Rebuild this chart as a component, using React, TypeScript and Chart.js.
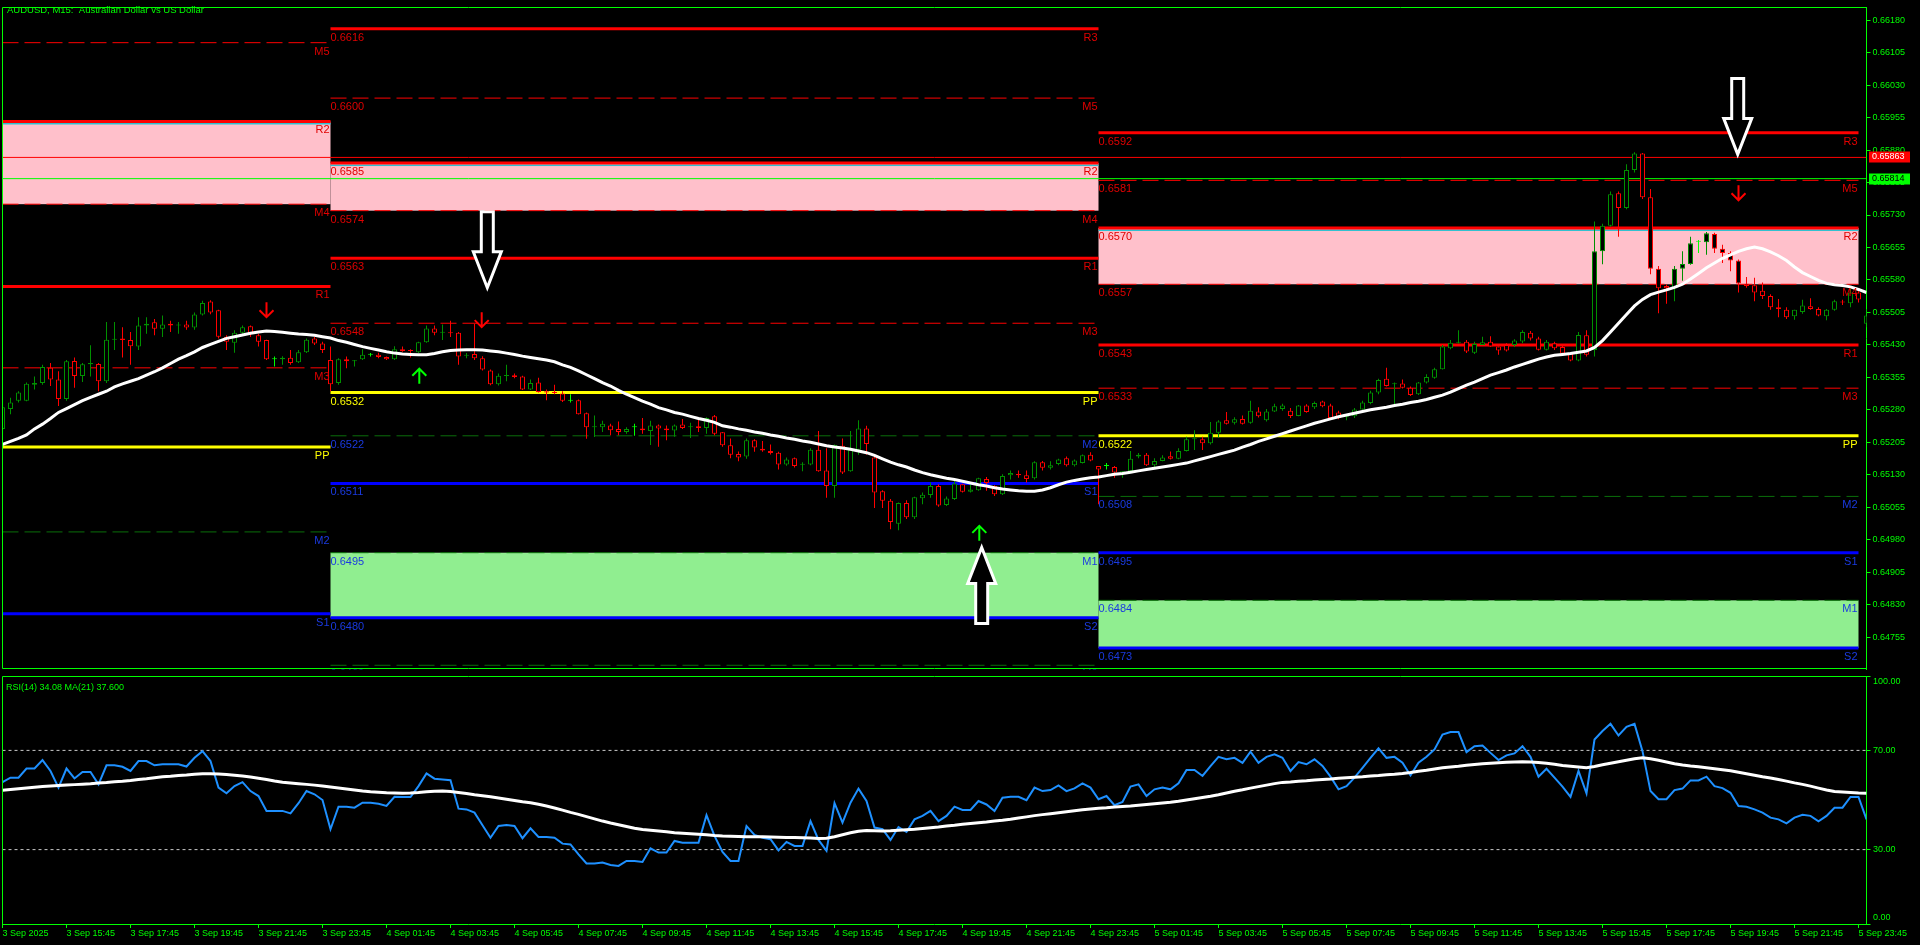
import React, { useEffect, useRef } from "react";
import { Chart, registerables } from "chart.js";

Chart.register(...registerables);

// ---------------- DATA ----------------
const TITLE = "AUDUSD, M15:  Australian Dollar vs US Dollar";
const RSI_TITLE = "RSI(14) 34.08 MA(21) 37.600";

const X_LABELS = [
  "3 Sep 2025", "3 Sep 15:45", "3 Sep 17:45", "3 Sep 19:45", "3 Sep 21:45", "3 Sep 23:45",
  "4 Sep 01:45", "4 Sep 03:45", "4 Sep 05:45", "4 Sep 07:45", "4 Sep 09:45", "4 Sep 11:45",
  "4 Sep 13:45", "4 Sep 15:45", "4 Sep 17:45", "4 Sep 19:45", "4 Sep 21:45", "4 Sep 23:45",
  "5 Sep 01:45", "5 Sep 03:45", "5 Sep 05:45", "5 Sep 07:45", "5 Sep 09:45", "5 Sep 11:45",
  "5 Sep 13:45", "5 Sep 15:45", "5 Sep 17:45", "5 Sep 19:45", "5 Sep 21:45", "5 Sep 23:45",
];
const BARS_PER_LABEL = 8;
const LAST_BAR = 233;

// prices in points (1 point = 0.00001)
const PRICE_TICKS = [
  66180, 66105, 66030, 65955, 65880, 65805, 65730, 65655, 65580, 65505,
  65430, 65355, 65280, 65205, 65130, 65055, 64980, 64905, 64830, 64755,
];
const PRICE_MIN = 64680;
const PRICE_MAX = 66209.5;
const RSI_TICKS = [100, 70, 30, 0];
const RSI_LEVELS = [70, 30];

const OPEN = [
  65236, 65282, 65301, 65301, 65338, 65342, 65377, 65350, 65305, 65393,
  65358, 65385, 65386, 65346, 65442, 65445, 65441, 65426, 65475, 65482,
  65467, 65479, 65475, 65477, 65470, 65500, 65530, 65510, 65449, 65435,
  65458, 65473, 65452, 65441, 65397, 65397, 65400, 65390, 65413, 65445,
  65433, 65395, 65342, 65397, 65392, 65397, 65407, 65407, 65402, 65397,
  65420, 65417, 65413, 65436, 65468, 65458, 65458, 65458, 65405, 65409,
  65399, 65371, 65339, 65358, 65360, 65357, 65327, 65343, 65323, 65320,
  65318, 65301, 65302, 65272, 65240, 65240, 65244, 65236, 65229, 65240,
  65237, 65231, 65244, 65237, 65232, 65246, 65240, 65242, 65238, 65265,
  65228, 65198, 65178, 65172, 65210, 65190, 65185, 65181, 65154, 65168,
  65153, 65154, 65188, 65140, 65104, 65197, 65138, 65188, 65237, 65170,
  65092, 65070, 65017, 65065, 65032, 65076, 65083, 65104, 65060, 65074,
  65108, 65091, 65094, 65120, 65104, 65085, 65129, 65132, 65129, 65122,
  65159, 65146, 65155, 65168, 65152, 65157, 65176, 65150, 65150, 65148,
  65132, 65138, 65172, 65176, 65152, 65162, 65173, 65167, 65185, 65212,
  65212, 65203, 65227, 65256, 65250, 65259, 65250, 65276, 65256, 65276,
  65282, 65278, 65266, 65290, 65286, 65299, 65290, 65274, 65263, 65265,
  65281, 65296, 65320, 65352, 65339, 65341, 65331, 65316, 65343, 65354,
  65374, 65422, 65435, 65437, 65412, 65430, 65437, 65426, 65430, 65430,
  65438, 65458, 65445, 65419, 65434, 65425, 65410, 65394, 65452, 65418,
  65646, 65705, 65780, 65746, 65834, 65872, 65771, 65606, 65566, 65561,
  65606, 65617, 65668, 65667, 65686, 65652, 65642, 65625, 65571, 65568,
  65555, 65543, 65517, 65511, 65496, 65506, 65519, 65513, 65496, 65511,
  65529, 65526, 65551, 65479,
];
const HIGH = [
  65293, 65308, 65323, 65343, 65357, 65384, 65388, 65369, 65395, 65401,
  65388, 65429, 65388, 65483, 65483, 65471, 65460, 65494, 65494, 65490,
  65498, 65486, 65483, 65486, 65505, 65532, 65533, 65511, 65452, 65464,
  65475, 65475, 65456, 65442, 65403, 65404, 65418, 65418, 65445, 65448,
  65437, 65426, 65399, 65403, 65395, 65420, 65411, 65412, 65403, 65427,
  65426, 65420, 65437, 65475, 65475, 65477, 65486, 65460, 65411, 65479,
  65404, 65373, 65364, 65384, 65364, 65359, 65350, 65354, 65327, 65338,
  65323, 65316, 65304, 65274, 65267, 65255, 65248, 65253, 65240, 65248,
  65261, 65255, 65246, 65244, 65246, 65259, 65250, 65263, 65263, 65268,
  65229, 65214, 65184, 65214, 65212, 65208, 65200, 65183, 65170, 65170,
  65159, 65191, 65231, 65191, 65200, 65214, 65231, 65256, 65243, 65176,
  65094, 65074, 65066, 65071, 65079, 65089, 65112, 65108, 65080, 65116,
  65109, 65108, 65123, 65125, 65106, 65131, 65140, 65140, 65140, 65161,
  65162, 65161, 65167, 65172, 65165, 65177, 65182, 65150, 65157, 65150,
  65138, 65185, 65180, 65180, 65168, 65175, 65184, 65191, 65218, 65233,
  65218, 65252, 65256, 65275, 65263, 65267, 65301, 65286, 65282, 65294,
  65294, 65284, 65291, 65293, 65299, 65301, 65294, 65278, 65268, 65284,
  65301, 65324, 65352, 65377, 65343, 65350, 65334, 65344, 65362, 65377,
  65430, 65441, 65464, 65441, 65437, 65449, 65450, 65426, 65434, 65443,
  65464, 65462, 65449, 65441, 65437, 65428, 65413, 65460, 65464, 65715,
  65710, 65784, 65784, 65847, 65875, 65873, 65790, 65612, 65570, 65612,
  65646, 65680, 65672, 65691, 65689, 65661, 65646, 65627, 65587, 65585,
  65574, 65547, 65536, 65517, 65511, 65534, 65538, 65517, 65513, 65534,
  65534, 65562, 65559, 65513,
];
const LOW = [
  65229, 65270, 65297, 65300, 65327, 65338, 65335, 65289, 65301, 65331,
  65344, 65357, 65323, 65342, 65418, 65401, 65384, 65418, 65456, 65452,
  65448, 65460, 65456, 65465, 65465, 65498, 65501, 65445, 65418, 65412,
  65452, 65448, 65426, 65395, 65380, 65384, 65384, 65388, 65411, 65430,
  65411, 65323, 65338, 65376, 65380, 65395, 65403, 65399, 65395, 65395,
  65414, 65401, 65411, 65435, 65452, 65441, 65448, 65384, 65399, 65395,
  65371, 65337, 65336, 65346, 65353, 65326, 65326, 65320, 65302, 65316,
  65298, 65297, 65269, 65213, 65217, 65229, 65221, 65221, 65225, 65220,
  65225, 65199, 65195, 65210, 65218, 65236, 65215, 65229, 65225, 65221,
  65195, 65168, 65161, 65167, 65183, 65183, 65177, 65142, 65151, 65147,
  65138, 65152, 65137, 65077, 65077, 65132, 65137, 65176, 65176, 65053,
  65053, 65004, 65002, 65028, 65028, 65062, 65077, 65056, 65058, 65072,
  65089, 65089, 65093, 65093, 65081, 65083, 65119, 65123, 65112, 65119,
  65140, 65142, 65152, 65149, 65149, 65156, 65161, 65062, 65142, 65123,
  65123, 65137, 65168, 65150, 65146, 65161, 65165, 65166, 65184, 65187,
  65187, 65200, 65215, 65246, 65246, 65246, 65248, 65262, 65253, 65275,
  65278, 65261, 65265, 65273, 65282, 65286, 65259, 65258, 65256, 65261,
  65280, 65293, 65316, 65334, 65290, 65329, 65312, 65314, 65341, 65352,
  65373, 65420, 65433, 65411, 65409, 65430, 65425, 65407, 65415, 65425,
  65434, 65440, 65417, 65417, 65418, 65407, 65392, 65392, 65403, 65403,
  65616, 65703, 65680, 65743, 65828, 65767, 65593, 65503, 65525, 65531,
  65578, 65615, 65642, 65638, 65642, 65619, 65600, 65551, 65562, 65531,
  65536, 65511, 65494, 65490, 65488, 65502, 65511, 65496, 65487, 65509,
  65522, 65517, 65528, 65471,
];
const CLOSE = [
  65286, 65297, 65320, 65340, 65342, 65379, 65350, 65305, 65392, 65358,
  65385, 65388, 65346, 65442, 65444, 65441, 65427, 65475, 65479, 65467,
  65477, 65475, 65477, 65470, 65500, 65527, 65505, 65449, 65437, 65458,
  65471, 65456, 65437, 65397, 65397, 65400, 65388, 65413, 65442, 65433,
  65418, 65339, 65397, 65392, 65394, 65407, 65407, 65402, 65397, 65420,
  65416, 65416, 65436, 65468, 65458, 65459, 65457, 65403, 65407, 65399,
  65373, 65339, 65359, 65360, 65356, 65327, 65342, 65321, 65320, 65319,
  65301, 65301, 65270, 65240, 65241, 65248, 65233, 65229, 65236, 65240,
  65233, 65244, 65237, 65233, 65244, 65238, 65241, 65238, 65261, 65225,
  65198, 65176, 65170, 65210, 65193, 65186, 65180, 65154, 65165, 65150,
  65154, 65188, 65138, 65104, 65199, 65135, 65188, 65237, 65201, 65089,
  65070, 65021, 65065, 65032, 65078, 65084, 65104, 65059, 65075, 65110,
  65091, 65096, 65122, 65111, 65085, 65127, 65134, 65129, 65120, 65159,
  65146, 65152, 65165, 65152, 65163, 65175, 65163, 65142, 65150, 65135,
  65138, 65167, 65176, 65152, 65162, 65170, 65167, 65185, 65212, 65213,
  65203, 65227, 65253, 65248, 65258, 65248, 65278, 65265, 65276, 65288,
  65290, 65266, 65290, 65275, 65296, 65288, 65261, 65261, 65264, 65281,
  65297, 65320, 65349, 65335, 65340, 65331, 65314, 65343, 65356, 65374,
  65426, 65435, 65437, 65415, 65432, 65436, 65426, 65417, 65417, 65440,
  65460, 65445, 65419, 65437, 65422, 65410, 65394, 65453, 65407, 65646,
  65705, 65778, 65746, 65834, 65872, 65771, 65606, 65561, 65561, 65606,
  65617, 65665, 65668, 65688, 65652, 65642, 65625, 65572, 65566, 65551,
  65543, 65517, 65513, 65494, 65511, 65521, 65513, 65498, 65511, 65531,
  65528, 65551, 65535, 65498,
];
const PRICE_MA = [
  65200, 65207, 65214, 65222, 65236, 65247, 65260, 65274, 65283, 65292,
  65301, 65309, 65316, 65323, 65333, 65340, 65346, 65352, 65360, 65368,
  65377, 65387, 65397, 65405, 65414, 65424, 65431, 65438, 65445, 65449,
  65453, 65457, 65460, 65462, 65461, 65459, 65457, 65455, 65454, 65452,
  65449, 65446, 65440, 65436, 65431, 65426, 65422, 65418, 65414, 65411,
  65409, 65408, 65407, 65407, 65410, 65414, 65417, 65418, 65419, 65419,
  65418, 65416, 65414, 65411, 65408, 65404, 65401, 65398, 65395, 65391,
  65384, 65378, 65370, 65361, 65352, 65343, 65335, 65325, 65316, 65308,
  65300, 65293, 65285, 65280, 65274, 65270, 65265, 65260, 65256, 65251,
  65243, 65240, 65236, 65233, 65229, 65226, 65222, 65219, 65215, 65212,
  65208, 65205, 65201, 65197, 65194, 65192, 65189, 65185, 65181, 65175,
  65167, 65159, 65153, 65148, 65141, 65135, 65130, 65126, 65122, 65119,
  65115, 65111, 65107, 65104, 65100, 65097, 65095, 65093, 65092, 65092,
  65095, 65100, 65107, 65113, 65117, 65120, 65123, 65125, 65128, 65131,
  65133, 65136, 65139, 65142, 65145, 65148, 65151, 65154, 65157, 65162,
  65167, 65172, 65177, 65182, 65187, 65194, 65200, 65207, 65213, 65219,
  65225, 65231, 65237, 65243, 65249, 65254, 65259, 65264, 65268, 65272,
  65276, 65280, 65283, 65286, 65290, 65293, 65297, 65300, 65304, 65309,
  65314, 65321, 65329, 65337, 65344, 65352, 65360, 65366, 65372, 65379,
  65385, 65391, 65397, 65402, 65406, 65408, 65410, 65413, 65416, 65424,
  65440, 65460, 65480, 65500, 65520, 65535, 65546, 65552, 65557, 65563,
  65570, 65582, 65595, 65608, 65619, 65630, 65638, 65646, 65652, 65656,
  65652, 65645, 65636, 65625, 65610, 65597, 65588, 65579, 65572, 65569,
  65567, 65564, 65558, 65551,
];
const RSI = [
  57.2, 59.0, 59.0, 62.7, 62.7, 66.1, 61.7, 55.0, 62.7, 58.7,
  61.3, 61.3, 56.3, 64.0, 64.0, 63.4, 61.7, 65.7, 65.7, 64.0,
  64.4, 64.4, 64.4, 63.5, 67.0, 69.7, 65.7, 55.0, 52.7, 55.6,
  57.2, 53.6, 51.6, 45.6, 45.6, 45.6, 44.6, 48.7, 53.6, 52.3,
  50.0, 38.2, 47.3, 47.3, 46.9, 48.9, 48.9, 48.5, 47.6, 51.3,
  51.2, 51.2, 55.6, 60.7, 58.6, 58.3, 58.0, 46.5, 46.2, 44.9,
  39.8, 34.8, 39.5, 39.9, 39.5, 34.6, 38.6, 35.1, 35.1, 34.8,
  32.4, 32.1, 28.1, 24.4, 24.4, 24.8, 23.8, 23.4, 25.4, 25.4,
  25.0, 30.5, 28.8, 28.8, 33.5, 32.8, 32.8, 32.8, 43.9, 35.5,
  29.1, 25.4, 25.4, 39.5, 35.9, 34.8, 34.2, 29.7, 33.1, 31.5,
  31.5, 41.5, 33.9, 29.5, 48.7, 40.9, 48.9, 54.6, 49.6, 38.9,
  38.2, 33.9, 39.1, 37.1, 42.2, 43.6, 45.6, 41.5, 43.6, 47.3,
  46.0, 46.0, 49.6, 48.2, 45.6, 50.9, 51.3, 51.3, 49.9, 55.0,
  53.6, 54.0, 55.9, 53.6, 54.7, 56.7, 55.0, 50.3, 51.6, 47.9,
  49.2, 55.4, 56.3, 51.6, 54.3, 55.0, 54.3, 56.7, 62.1, 62.1,
  59.7, 63.7, 67.4, 66.4, 67.0, 65.0, 69.5, 65.0, 67.4, 68.4,
  67.0, 61.7, 65.3, 64.4, 66.4, 63.7, 59.4, 54.3, 55.6, 59.0,
  63.0, 67.0, 70.8, 67.0, 67.4, 65.0, 59.9, 65.0, 67.4, 70.4,
  76.4, 77.4, 77.4, 69.3, 71.7, 72.0, 69.0, 66.1, 68.0, 68.8,
  71.7, 67.4, 59.4, 62.6, 59.0, 55.4, 51.3, 61.7, 52.7, 74.4,
  77.8, 80.7, 76.0, 79.5, 80.7, 69.7, 53.6, 50.3, 50.3, 54.0,
  54.6, 57.9, 57.9, 59.4, 55.6, 54.8, 52.9, 47.6, 47.3, 46.2,
  44.9, 42.9, 42.2, 40.6, 42.9, 44.0, 43.6, 41.4, 43.6, 46.9,
  46.9, 51.2, 51.2, 42.2,
];
const RSI_MA = [
  53.9, 54.2, 54.5, 54.8, 55.1, 55.4, 55.6, 55.8, 56.0, 56.2,
  56.4, 56.6, 56.9, 57.1, 57.4, 57.6, 57.9, 58.3, 58.6, 59.0,
  59.4, 59.6, 59.9, 60.1, 60.4, 60.6, 60.6, 60.5, 60.3, 60.0,
  59.7, 59.3, 58.8, 58.3, 57.7, 57.2, 56.9, 56.6, 56.3, 56.0,
  55.6, 55.2, 54.8, 54.4, 54.0, 53.6, 53.3, 53.1, 52.9, 52.8,
  52.7, 52.8, 53.0, 53.3, 53.5, 53.6, 53.4, 53.0, 52.6, 52.1,
  51.7, 51.3, 50.8, 50.3, 49.8, 49.3, 48.9, 48.3, 47.6, 46.8,
  45.9, 45.0, 44.2, 43.3, 42.4, 41.5, 40.7, 40.0, 39.3, 38.6,
  38.1, 37.8, 37.5, 37.2, 36.8, 36.6, 36.4, 36.2, 36.0, 35.7,
  35.5, 35.4, 35.3, 35.2, 35.2, 35.2, 35.1, 35.0, 34.9, 34.9,
  34.8, 34.7, 34.5, 34.6, 35.2, 36.0, 36.8, 37.4, 37.7, 37.6,
  37.5, 37.6, 37.8, 38.0, 38.2, 38.5, 38.8, 39.1, 39.5, 39.8,
  40.2, 40.5, 40.8, 41.1, 41.5, 41.8, 42.2, 42.7, 43.2, 43.7,
  44.1, 44.5, 44.9, 45.3, 45.7, 46.1, 46.4, 46.7, 46.9, 47.2,
  47.4, 47.6, 47.9, 48.2, 48.5, 48.8, 49.1, 49.5, 50.0, 50.5,
  51.0, 51.5, 52.1, 52.8, 53.5, 54.1, 54.8, 55.4, 56.0, 56.6,
  57.1, 57.3, 57.6, 57.8, 58.1, 58.3, 58.5, 58.8, 59.0, 59.2,
  59.4, 59.7, 59.9, 60.2, 60.4, 60.7, 61.1, 61.6, 62.0, 62.5,
  63.0, 63.3, 63.6, 64.0, 64.3, 64.6, 64.8, 65.0, 65.2, 65.3,
  65.4, 65.3, 65.1, 64.8, 64.4, 63.9, 63.6, 63.3, 63.0, 63.5,
  64.2, 64.8, 65.4, 66.0, 66.6, 67.0, 66.6, 66.0, 65.3, 64.6,
  64.1, 63.7, 63.4, 63.0, 62.6, 62.2, 61.8, 61.2, 60.6, 60.0,
  59.4, 58.9, 58.3, 57.6, 56.9, 56.3, 55.6, 54.8, 54.0, 53.4,
  53.2, 53.0, 52.8, 52.7,
];

// daily pivot levels (points); null = not on screen
const PIVOT_NAMES = ["R3", "M5", "R2", "M4", "R1", "M3", "PP", "M2", "S1", "M1", "S2", "M0"];
const DAY1_PIVOTS = [null, 66128, 65946, 65755, 65565, 65377, 65194, 64998, 64809, null, null, null];
const DAY2_PIVOTS = [66160, 66000, 65850, 65740, 65630, 65480, 65320, 65220, 65110, 64950, 64800, 64690];
const DAY3_PIVOTS = [65920, 65810, 65700, 65570, 65430, 65330, 65220, 65080, 64950, 64840, 64730, null];
const DAY_START_BARS = [0, 41, 137];
const DAY_END_BARS = [41, 137, 232];
const DAY_SHOWS_PRICE = [false, true, true];

const HLINE_PRICES = [65863, 65814];

const BIG_ARROW_BARS = [60.6, 216.9, 122.4];
const BIG_ARROW_PRICES = [65562, 65870, 64962];
const BIG_ARROW_DIRS = ["down", "down", "up"];
const SMALL_ARROW_BARS = [33, 59.9, 217, 52.1, 122.1];
const SMALL_ARROW_PRICES = [65494, 65471, 65764, 65375, 65012];
const SMALL_ARROW_DIRS = ["down", "down", "down", "up", "up"];

// ---------------- STYLE ----------------
const FONT = '"Liberation Sans", Arial, sans-serif';
const GREEN_TXT = "#00ff00";
const BULL = "#009000";
const BEAR = "#ff0000";
const DOJI = "#00ff00";
const HLINE_COLORS = ["#ff0000", "#00ff00"];
const HLINE_TEXT = ["#ffffff", "#000000"];
const PINK = "#ffc0cb";
const LIGHT_GREEN = "#90ee90";
const DASH = [16, 6];

function levelStyle(name: string) {
  if (name === "PP") return { color: "#ffff00", width: 3, dash: [] as number[], label: "#ffff00" };
  if (name[0] === "R") return { color: "#ff0000", width: 3, dash: [] as number[], label: "#e00000" };
  if (name[0] === "S") return { color: "#0000ff", width: 3, dash: [] as number[], label: "#1a3ae0" };
  const n = Number(name[1]);
  if (n >= 3) return { color: "#ff0000", width: 1, dash: DASH, label: "#e00000" };
  return { color: "#0a6e0a", width: 1, dash: DASH, label: "#1a3ae0" };
}

const DAYS = [DAY1_PIVOTS, DAY2_PIVOTS, DAY3_PIVOTS];
const idx = (n: string) => PIVOT_NAMES.indexOf(n);

function candleColor(i: number) {
  return CLOSE[i] > OPEN[i] ? BULL : CLOSE[i] < OPEN[i] ? BEAR : DOJI;
}

function drawBigArrow(ctx: CanvasRenderingContext2D, x: number, yTip: number, dir: string) {
  const s = dir === "down" ? 1 : -1;
  const H = 76, HH = 36, HW = 14, SW = 6;
  ctx.beginPath();
  ctx.moveTo(x, yTip);
  ctx.lineTo(x + HW, yTip - s * HH);
  ctx.lineTo(x + SW, yTip - s * HH);
  ctx.lineTo(x + SW, yTip - s * H);
  ctx.lineTo(x - SW, yTip - s * H);
  ctx.lineTo(x - SW, yTip - s * HH);
  ctx.lineTo(x - HW, yTip - s * HH);
  ctx.closePath();
  ctx.fillStyle = "#000";
  ctx.fill();
  ctx.lineWidth = 3;
  ctx.strokeStyle = "#ffffff";
  ctx.lineJoin = "miter";
  ctx.stroke();
}

function drawSmallArrow(ctx: CanvasRenderingContext2D, x: number, yTip: number, dir: string) {
  const s = dir === "down" ? 1 : -1;
  ctx.strokeStyle = dir === "down" ? "#ff0000" : "#00ff00";
  ctx.lineWidth = 2;
  ctx.beginPath();
  ctx.moveTo(x, yTip - s * 15);
  ctx.lineTo(x, yTip);
  ctx.moveTo(x - 7, yTip - s * 7);
  ctx.lineTo(x, yTip);
  ctx.lineTo(x + 7, yTip - s * 7);
  ctx.stroke();
}

const mainDecor = {
  id: "mainDecor",
  beforeDatasetsDraw(chart: any) {
    const { ctx, chartArea: a, scales } = chart;
    const x = scales.x, y = scales.y;
    ctx.save();
    ctx.beginPath();
    ctx.rect(a.left, a.top, a.right - a.left, a.bottom - a.top);
    ctx.clip();
    DAYS.forEach((lv, d) => {
      const xs = x.getPixelForValue(DAY_START_BARS[d]);
      const xe = x.getPixelForValue(DAY_END_BARS[d]);
      const r2 = lv[idx("R2")], m4 = lv[idx("M4")];
      if (r2 != null && m4 != null) {
        const yt = y.getPixelForValue(r2), yb = y.getPixelForValue(m4);
        ctx.fillStyle = PINK;
        ctx.fillRect(xs, yt, xe - xs, yb - yt);
        ctx.fillStyle = "#30c0d0";
        ctx.fillRect(xs, yt + 1.5, xe - xs, 1.5);
      }
      const m1 = lv[idx("M1")], s2 = lv[idx("S2")];
      if (m1 != null && s2 != null) {
        const yt = y.getPixelForValue(m1), yb = y.getPixelForValue(s2);
        ctx.fillStyle = LIGHT_GREEN;
        ctx.fillRect(xs, yt, xe - xs, yb - yt);
      }
    });
    ctx.restore();
  },
  afterDatasetsDraw(chart: any) {
    const { ctx, chartArea: a, scales } = chart;
    const x = scales.x, y = scales.y;
    ctx.save();
    ctx.beginPath();
    ctx.rect(a.left, a.top, a.right - a.left, a.bottom - a.top);
    ctx.clip();
    ctx.font = "11px " + FONT;
    ctx.textBaseline = "alphabetic";
    DAYS.forEach((lv, d) => {
      const xs = x.getPixelForValue(DAY_START_BARS[d]);
      const xe = x.getPixelForValue(DAY_END_BARS[d]);
      lv.forEach((v, k) => {
        if (v == null) return;
        const st = levelStyle(PIVOT_NAMES[k]);
        const yy = y.getPixelForValue(v);
        ctx.fillStyle = st.label;
        ctx.textAlign = "right";
        ctx.fillText(PIVOT_NAMES[k], xe - 1, yy + 12);
        if (DAY_SHOWS_PRICE[d]) {
          ctx.textAlign = "left";
          ctx.fillText((v / 1e5).toFixed(4), xs, yy + 12);
        }
      });
    });
    BIG_ARROW_BARS.forEach((b, i) => {
      drawBigArrow(ctx, x.getPixelForValue(b), y.getPixelForValue(BIG_ARROW_PRICES[i]), BIG_ARROW_DIRS[i]);
    });
    SMALL_ARROW_BARS.forEach((b, i) => {
      drawSmallArrow(ctx, x.getPixelForValue(b), y.getPixelForValue(SMALL_ARROW_PRICES[i]), SMALL_ARROW_DIRS[i]);
    });
    ctx.restore();
  },
  afterDraw(chart: any) {
    const { ctx, chartArea: a, scales } = chart;
    const y = scales.y;
    ctx.save();
    ctx.strokeStyle = "#00ff00";
    ctx.lineWidth = 1;
    ctx.beginPath();
    const l = Math.floor(a.left) + 0.5, t = Math.floor(a.top) + 0.5;
    const r = Math.floor(a.right) + 0.5, b = Math.floor(a.bottom) - 0.5;
    ctx.moveTo(r, t); ctx.lineTo(l, t); ctx.lineTo(l, b); ctx.lineTo(r, b);
    ctx.stroke();
    ctx.fillStyle = GREEN_TXT;
    ctx.font = "9.5px " + FONT;
    ctx.textAlign = "left";
    ctx.textBaseline = "alphabetic";
    ctx.fillText(TITLE, 7, 13);
    ctx.font = "9px " + FONT;
    ctx.textBaseline = "middle";
    HLINE_PRICES.forEach((p, i) => {
      const yy = y.getPixelForValue(p);
      ctx.fillStyle = HLINE_COLORS[i];
      ctx.fillRect(1869, Math.round(yy) - 5.5, 41, 11);
      ctx.fillStyle = HLINE_TEXT[i];
      ctx.fillText((p / 1e5).toFixed(5), 1872, Math.round(yy));
    });
    ctx.restore();
  },
};

const rsiDecor = {
  id: "rsiDecor",
  afterDraw(chart: any) {
    const { ctx, chartArea: a, scales } = chart;
    const y = scales.y;
    ctx.save();
    ctx.strokeStyle = "#00ff00";
    ctx.lineWidth = 1;
    ctx.beginPath();
    const l = Math.floor(a.left) + 0.5, t = Math.floor(a.top) + 0.5, r = Math.floor(a.right) + 0.5;
    ctx.moveTo(r, t); ctx.lineTo(l, t); ctx.lineTo(l, a.bottom);
    ctx.stroke();
    ctx.fillStyle = GREEN_TXT;
    ctx.font = "9px " + FONT;
    ctx.textAlign = "left";
    ctx.textBaseline = "alphabetic";
    ctx.fillText(RSI_TITLE, 6, 14);
    ctx.textBaseline = "middle";
    RSI_TICKS.forEach((v) => {
      let yy = y.getPixelForValue(v);
      yy = Math.min(Math.max(yy, a.top + 6), a.bottom - 6);
      ctx.fillText(v.toFixed(2), 1873, yy);
    });
    ctx.restore();
  },
};

export default function App() {
  const mainRef = useRef<HTMLCanvasElement>(null);
  const rsiRef = useRef<HTMLCanvasElement>(null);

  useEffect(() => {
    document.body.style.margin = "0";
    document.body.style.background = "#000";
    document.body.style.overflow = "hidden";
    document.documentElement.style.background = "#000";
    Chart.defaults.font.family = FONT;

    const colors = OPEN.map((_, i) => candleColor(i));
    const pivotSets: any[] = [];
    DAYS.forEach((lv, d) => {
      lv.forEach((v, k) => {
        if (v == null) return;
        const st = levelStyle(PIVOT_NAMES[k]);
        pivotSets.push({
          type: "line",
          data: [{ x: DAY_START_BARS[d], y: v }, { x: DAY_END_BARS[d], y: v }],
          borderColor: st.color,
          borderWidth: st.width,
          borderDash: st.dash,
          borderCapStyle: "butt",
          pointRadius: 0,
          order: 10,
          clip: 0,
        });
      });
    });
    const hlineSets = HLINE_PRICES.map((p, i) => ({
      type: "line",
      data: [{ x: 0, y: p }, { x: LAST_BAR, y: p }],
      borderColor: HLINE_COLORS[i],
      borderWidth: 1,
      pointRadius: 0,
      order: 9,
      clip: 0,
    }));

    const main = new Chart(mainRef.current as HTMLCanvasElement, {
      type: "line",
      data: {
        datasets: [
          ...pivotSets,
          ...hlineSets,
          {
            type: "bar",
            data: OPEN.map((_, i) => ({ x: i, y: [LOW[i], HIGH[i]] })),
            backgroundColor: colors,
            borderWidth: 0,
            barThickness: 1,
            grouped: false,
            inflateAmount: 0,
            minBarLength: 1,
            order: 5,
            clip: 0,
          },
          {
            type: "bar",
            data: OPEN.map((o, i) => ({ x: i, y: [o, CLOSE[i]] })),
            backgroundColor: "#000000",
            borderColor: colors,
            borderWidth: 1,
            borderSkipped: false,
            barThickness: 5,
            grouped: false,
            inflateAmount: 0,
            minBarLength: 1,
            order: 4,
            clip: 0,
          },
          {
            type: "line",
            data: PRICE_MA.map((v, i) => ({ x: i, y: v })),
            borderColor: "#ffffff",
            borderWidth: 3,
            pointRadius: 0,
            order: 1,
            clip: 0,
          },
        ] as any,
      },
      options: {
        animation: false,
        responsive: false,
        devicePixelRatio: 1,
        events: [],
        layout: { padding: { left: 2.5, top: 2, bottom: 2, right: 0 } },
        plugins: { legend: { display: false }, tooltip: { enabled: false } },
        scales: {
          x: { type: "linear", min: 0, max: LAST_BAR, display: false, offset: false, grid: { offset: false } },
          y: {
            type: "linear",
            position: "right",
            min: PRICE_MIN,
            max: PRICE_MAX,
            afterBuildTicks: (s: any) => { s.ticks = PRICE_TICKS.map((v) => ({ value: v })); },
            afterFit: (s: any) => { s.width = 53.5; },
            grid: { display: true, drawOnChartArea: false, drawTicks: true, tickLength: 4, color: "#00ff00" },
            border: { display: true, color: "#00ff00" },
            ticks: {
              color: GREEN_TXT,
              font: { family: FONT, size: 9 },
              padding: 2,
              autoSkip: false,
              callback: (v: any) => (Number(v) / 1e5).toFixed(5),
            },
          },
        } as any,
      },
      plugins: [mainDecor],
    } as any);

    const rsi = new Chart(rsiRef.current as HTMLCanvasElement, {
      type: "line",
      data: {
        datasets: [
          ...RSI_LEVELS.map((lv) => ({
            data: [{ x: 0, y: lv }, { x: LAST_BAR, y: lv }],
            borderColor: "#c8c8c8",
            borderWidth: 1,
            borderDash: [3, 3],
            pointRadius: 0,
            order: 5,
          })),
          {
            data: RSI.map((v, i) => ({ x: i, y: v })),
            borderColor: "#1e90ff",
            borderWidth: 2,
            pointRadius: 0,
            order: 2,
            clip: 0,
          },
          {
            data: RSI_MA.map((v, i) => ({ x: i, y: v })),
            borderColor: "#ffffff",
            borderWidth: 3,
            pointRadius: 0,
            order: 1,
            clip: 0,
          },
        ] as any,
      },
      options: {
        animation: false,
        responsive: false,
        devicePixelRatio: 1,
        events: [],
        layout: { padding: { left: 2.5, top: 0, bottom: 0, right: 0 } },
        plugins: { legend: { display: false }, tooltip: { enabled: false } },
        scales: {
          x: {
            type: "linear",
            min: 0,
            max: LAST_BAR,
            offset: false,
            afterBuildTicks: (s: any) => { s.ticks = X_LABELS.map((_, i) => ({ value: i * BARS_PER_LABEL })); },
            afterFit: (s: any) => { s.height = 21; },
            grid: { display: true, drawOnChartArea: false, drawTicks: true, tickLength: 4, color: "#00ff00", offset: false },
            border: { display: true, color: "#00ff00" },
            ticks: {
              color: GREEN_TXT,
              font: { family: FONT, size: 9 },
              padding: 0,
              autoSkip: false,
              maxRotation: 0,
              minRotation: 0,
              align: "start",
              callback: (_v: any, i: number) => X_LABELS[i],
            },
          },
          y: {
            type: "linear",
            position: "right",
            min: 0,
            max: 100,
            afterBuildTicks: (s: any) => { s.ticks = RSI_TICKS.map((v) => ({ value: v })); },
            afterFit: (s: any) => { s.width = 53.5; },
            grid: { display: true, drawOnChartArea: false, drawTicks: true, tickLength: 4, color: "#00ff00" },
            border: { display: true, color: "#00ff00" },
            ticks: { display: false },
          },
        } as any,
      },
      plugins: [rsiDecor],
    } as any);

    return () => {
      main.destroy();
      rsi.destroy();
    };
  }, []);

  return (
    <div style={{ position: "relative", width: 1920, height: 945, background: "#000", overflow: "hidden" }}>
      <canvas
        ref={mainRef}
        width={1920}
        height={677}
        style={{ position: "absolute", left: 0, top: 0, width: 1920, height: 677 }}
      />
      <canvas
        ref={rsiRef}
        width={1920}
        height={269}
        style={{ position: "absolute", left: 0, top: 676, width: 1920, height: 269 }}
      />
    </div>
  );
}
